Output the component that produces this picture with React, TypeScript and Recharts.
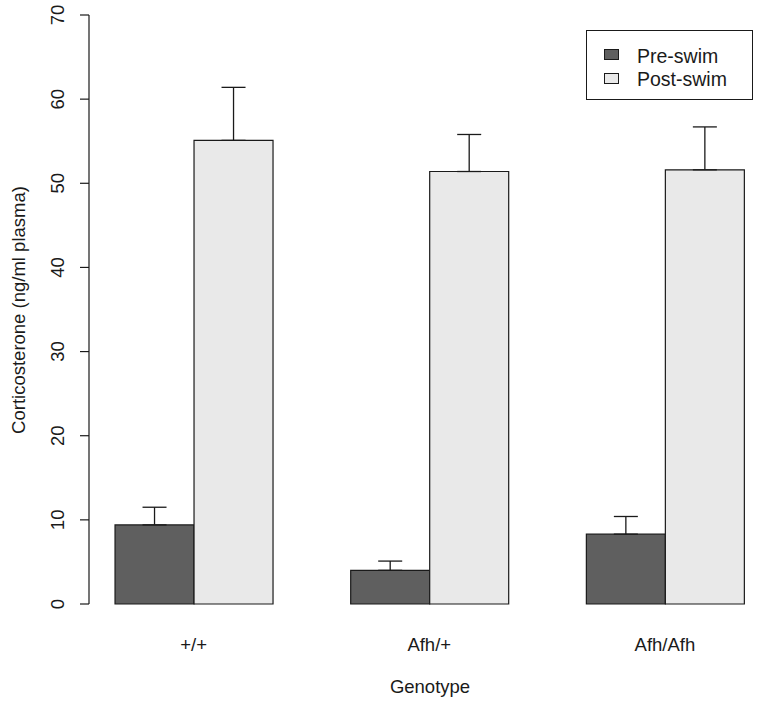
import React from 'react';
import { BarChart, Bar, XAxis, YAxis, ErrorBar } from 'recharts';

const categories = ['+/+', 'Afh/+', 'Afh/Afh'];
const preSwim = [9.4, 4.0, 8.3];
const postSwim = [55.1, 51.4, 51.6];
const preErr = [2.1, 1.1, 2.1];
const postErr = [6.3, 4.4, 5.1];
const yTicks = [0, 10, 20, 30, 40, 50, 60, 70];
const seriesNames = ['Pre-swim', 'Post-swim'];
const seriesColors = ['#5f5f5f', '#e9e9e9'];

const data = categories.map((c, i) => ({
  genotype: c,
  pre: preSwim[i],
  post: postSwim[i],
  preE: [0, preErr[i]],
  postE: [0, postErr[i]],
}));

const FONT = '"Liberation Sans", Arial, Helvetica, sans-serif';
const INK = '#1a1a1a';
const FS = 18.5;

const YTick = (props: any) => {
  const { y, payload } = props;
  return (
    <text
      x={64}
      y={y}
      transform={`rotate(-90, 64, ${y})`}
      textAnchor="middle"
      fontSize={FS}
      fontFamily={FONT}
      fill={INK}
    >
      {payload.value}
    </text>
  );
};

const XTick = (props: any) => {
  const { x, payload } = props;
  return (
    <text x={x} y={651} textAnchor="middle" fontSize={FS} fontFamily={FONT} fill={INK}>
      {payload.value}
    </text>
  );
};

const LegendBox = () => (
  <div
    style={{
      position: 'absolute',
      left: 586,
      top: 30,
      border: `1px solid ${INK}`,
      width: 167,
      height: 70,
      boxSizing: 'border-box',
      fontFamily: FONT,
      fontSize: 19.5,
      color: INK,
      background: '#fff',
    }}
  >
    {seriesNames.map((name, i) => (
      <React.Fragment key={name}>
        <div
          style={{
            position: 'absolute',
            left: 17,
            top: 18 + i * 24,
            width: 13,
            height: 9,
            background: seriesColors[i],
            border: `1px solid ${INK}`,
          }}
        />
        <div
          style={{
            position: 'absolute',
            left: 50,
            top: 14 + i * 23,
            lineHeight: '22px',
            whiteSpace: 'nowrap',
          }}
        >
          {name}
        </div>
      </React.Fragment>
    ))}
  </div>
);

export default function App() {
  return (
    <div style={{ position: 'absolute', left: 0, top: 0, width: 759, height: 703, fontFamily: FONT, background: '#fff' }}>
      <BarChart
        width={759}
        height={703}
        data={data}
        margin={{ top: 15, right: 0, bottom: 69, left: 0 }}
        barCategoryGap="16.667%"
        barGap={0}
      >
        <XAxis
          dataKey="genotype"
          height={30}
          axisLine={false}
          tickLine={false}
          tick={<XTick />}
          padding={{ left: -13.25, right: -23.75 }}
          interval={0}
          label={{
            content: () => (
              <text x={430} y={693} textAnchor="middle" fontSize={FS} fontFamily={FONT} fill={INK}>
                Genotype
              </text>
            ),
          }}
        />
        <YAxis
          width={89}
          domain={[0, 70]}
          ticks={yTicks}
          type="number"
          tickSize={9}
          axisLine={{ stroke: INK, strokeWidth: 1.2 }}
          tickLine={{ stroke: INK, strokeWidth: 1.2 }}
          tick={<YTick />}
          interval={0}
          label={{
            content: () => (
              <text
                x={25}
                y={310}
                transform="rotate(-90, 25, 310)"
                textAnchor="middle"
                fontSize={FS}
                fontFamily={FONT}
                fill={INK}
              >
                Corticosterone (ng/ml plasma)
              </text>
            ),
          }}
        />
        <Bar dataKey="pre" name={seriesNames[0]} fill={seriesColors[0]} stroke={INK} strokeWidth={1.2} isAnimationActive={false}>
          <ErrorBar dataKey="preE" width={12} stroke={INK} strokeWidth={1.3} direction="y" />
        </Bar>
        <Bar dataKey="post" name={seriesNames[1]} fill={seriesColors[1]} stroke={INK} strokeWidth={1.2} isAnimationActive={false}>
          <ErrorBar dataKey="postE" width={12} stroke={INK} strokeWidth={1.3} direction="y" />
        </Bar>
      </BarChart>
      <LegendBox />
    </div>
  );
}
